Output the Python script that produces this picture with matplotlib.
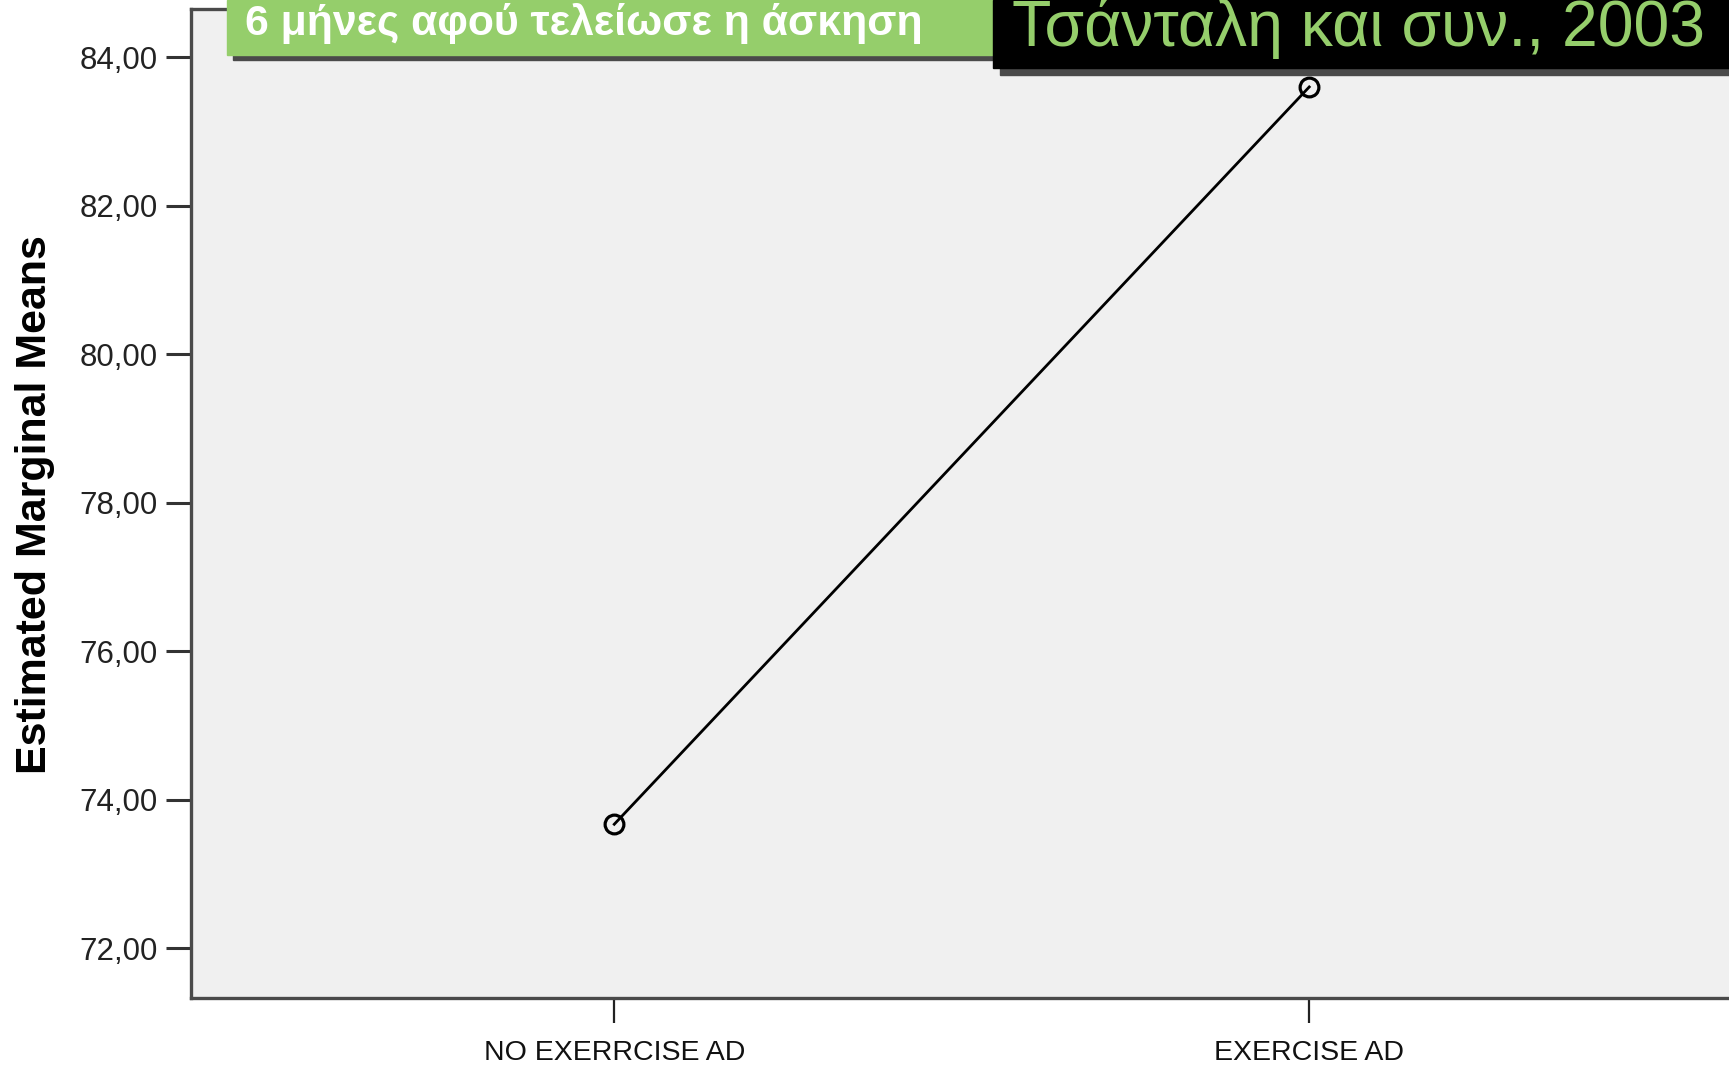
import matplotlib

matplotlib.use("Agg")
import matplotlib.pyplot as plt
from matplotlib.patches import Rectangle
from matplotlib.ticker import FuncFormatter

# data
groups = ["NO EXERRCISE AD", "EXERCISE AD"]
means = [73.67, 83.60]
y_ticks = [72, 74, 76, 78, 80, 82, 84]

banner_left = "6 μήνες αφού τελείωσε η άσκηση"
banner_right = "Τσάνταλη και συν., 2003"
y_label = "Estimated Marginal Means"

W, H = 1729, 1074
GREEN = "#95CE6B"
plt.rcParams["font.family"] = ["Liberation Sans", "DejaVu Sans"]

fig = plt.figure(figsize=(W / 100, H / 100), dpi=100)


def fr(x, y):
    # pixel (top-left origin) -> figure fraction
    return x / W, 1 - y / H


l, t = fr(191, 9)
_, b = fr(0, 998)
ax = fig.add_axes([l, b, 1 - l, t - b])
ax.set_facecolor("#f0f0f0")

ax.plot(range(len(groups)), means, color="black", lw=2.0, marker="o",
        ms=13.5, mfc="none", mec="black", mew=2.3, zorder=3)

ax.set_xlim(-0.609, 1.604)
ax.set_ylim(71.33, 84.65)
ax.set_yticks(y_ticks)
ax.yaxis.set_major_formatter(FuncFormatter(lambda v, _: f"{v:.2f}".replace(".", ",")))
ax.set_xticks(range(len(groups)), groups)

ax.tick_params(axis="y", direction="out", length=18, width=2.2, color="#333333",
               labelsize=22.5, pad=6, labelcolor="#222222")
ax.tick_params(axis="x", direction="out", length=18, width=1.6, color="#222222",
               labelsize=20.5, pad=12, labelcolor="#111111")
for s in ("left", "bottom", "top"):
    ax.spines[s].set_color("#4a4a4a")
    ax.spines[s].set_linewidth(2.4)
ax.spines["right"].set_visible(False)

fig.text(35 / W, fr(0, 505)[1], y_label, rotation=90, ha="center", va="center",
         fontsize=31, fontweight="bold", color="black")

# green banner with shadow
x0, y0 = fr(233, 60)
x1, _ = fr(993, 0)
fig.add_artist(Rectangle((x0, y0), x1 - x0, 6 / H, transform=fig.transFigure,
                         color="#4a4a4a", zorder=5))
gx, gy = fr(227, 55)
fig.add_artist(Rectangle((gx, gy), x1 - gx, 55 / H, transform=fig.transFigure,
                         color=GREEN, zorder=6))
fig.text(*fr(245, 23), banner_left, ha="left", va="center", fontsize=30.8,
         fontweight="bold", color="white", zorder=7)

# black banner with shadow
sx, sy = fr(1000, 75)
fig.add_artist(Rectangle((sx, sy), 1 - sx, 7 / H, transform=fig.transFigure,
                         color="#4a4a4a", zorder=5))
kx, ky = fr(993, 68)
fig.add_artist(Rectangle((kx, ky), 1 - kx, 68 / H, transform=fig.transFigure,
                         color="black", zorder=6))
fig.text(*fr(1012, 28), banner_right, ha="left", va="center", fontsize=46.3,
         color=GREEN, zorder=7)

fig.savefig("out.png", dpi=100)
